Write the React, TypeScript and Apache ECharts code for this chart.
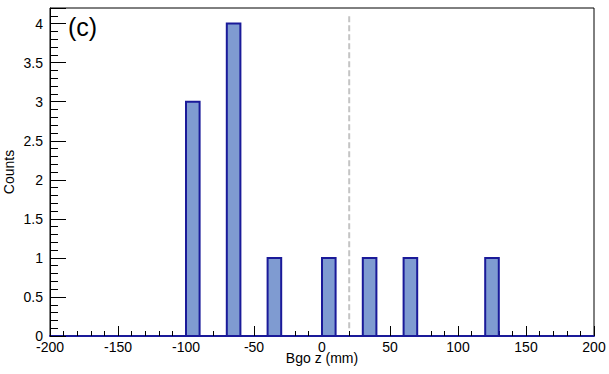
import React, { useEffect, useRef } from "react";
import * as echarts from "echarts";

const binLows = [-100, -70, -40, 0, 30, 60, 120];
const counts = [3, 4, 1, 1, 1, 1, 1];
const binWidth = 10;
const cutX = 20;
const cutRange = [0.1, 4.13];
const xTitle = "Bgo z (mm)";
const yTitle = "Counts";
const panelLabel = "(c)";

export default function App() {
  const ref = useRef<HTMLDivElement>(null);
  useEffect(() => {
    if (!ref.current) return;
    const chart = echarts.init(ref.current, undefined, { renderer: "svg" });
    const font = "'Liberation Sans', Arial, sans-serif";
    const bins = binLows.map((lo, i) => [lo, lo + binWidth, counts[i]]);
    chart.setOption({
      animation: false,
      backgroundColor: "#ffffff",
      grid: {
        left: 50,
        right: 15,
        top: 8,
        bottom: 38,
        show: true,
        borderColor: "#000",
        borderWidth: 1,
        outerBoundsMode: "none",
        containLabel: false,
      },
      graphic: [
        {
          type: "text",
          left: 68,
          top: 14,
          style: { text: panelLabel, fontSize: 25, fontFamily: font, fill: "#000" },
        },
      ],
      xAxis: {
        type: "value",
        min: -200,
        max: 200,
        interval: 50,
        name: xTitle,
        nameLocation: "middle",
        nameGap: 15,
        nameMoveOverlap: false,
        nameTextStyle: { fontFamily: font, fontSize: 14, color: "#000" },
        axisLine: { show: true, onZero: false, lineStyle: { color: "#1a1a99", width: 2 } },
        axisTick: { show: true, inside: true, length: 10, lineStyle: { color: "#000" } },
        minorTick: { show: true, splitNumber: 5, length: 5, lineStyle: { color: "#000" } },
        axisLabel: { fontFamily: font, fontSize: 14, color: "#000", margin: 4 },
        splitLine: { show: false },
      },
      yAxis: {
        type: "value",
        min: 0,
        max: 4.2,
        interval: 0.5,
        name: yTitle,
        nameLocation: "middle",
        nameGap: 34,
        nameMoveOverlap: false,
        nameTextStyle: { fontFamily: font, fontSize: 14, color: "#000" },
        axisLine: { show: true, onZero: false, lineStyle: { color: "#000", width: 1 } },
        axisTick: { show: true, inside: true, length: 16, lineStyle: { color: "#000" } },
        minorTick: { show: true, splitNumber: 5, length: 8, lineStyle: { color: "#000" } },
        axisLabel: { fontFamily: font, fontSize: 14, color: "#000", margin: 7, showMaxLabel: false },
        splitLine: { show: false },
      },
      series: [
        {
          type: "custom",
          data: bins,
          z: 3,
          renderItem: (params: any, api: any) => {
            const p0 = api.coord([api.value(0), api.value(2)]);
            const p1 = api.coord([api.value(1), 0]);
            return {
              type: "rect",
              shape: { x: p0[0], y: p0[1], width: p1[0] - p0[0], height: p1[1] - p0[1] },
              style: { fill: "#7f9bd1", stroke: "#1a1a99", lineWidth: 2 },
            };
          },
        },
        {
          type: "line",
          data: [
            [cutX, cutRange[0]],
            [cutX, cutRange[1]],
          ],
          symbol: "none",
          z: 2,
          lineStyle: { color: "#c4c4c4", width: 2, type: [6, 3] },
        },
      ],
    });
    return () => chart.dispose();
  }, []);
  return (
    <div
      ref={ref}
      style={{ position: "fixed", left: 0, top: 0, width: 609, height: 374 }}
    />
  );
}
